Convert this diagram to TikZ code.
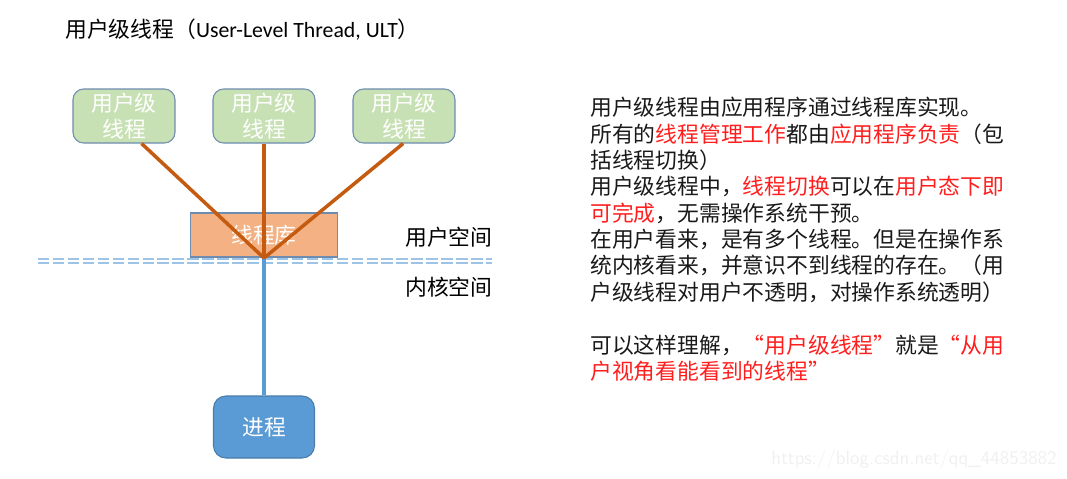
\documentclass[tikz,border=0pt]{standalone}
\usepackage{fontspec}
\setmainfont{Noto Sans CJK SC}
\newfontfamily\latinfont{Carlito}
\usepackage{xcolor}
\usepackage{tikz}
\usetikzlibrary{positioning}

\definecolor{threadgreen}{RGB}{199,224,180}
\definecolor{liborange}{RGB}{244,177,131}
\definecolor{procblue}{RGB}{91,155,213}
\definecolor{edgegray}{RGB}{110,140,175}
\definecolor{linkbrown}{RGB}{197,90,17}
\definecolor{sepblue}{RGB}{157,195,230}
\definecolor{textred}{RGB}{255,30,30}

\begin{document}
\begin{tikzpicture}[x=0.02cm,y=-0.02cm,
  every node/.style={font=\fontsize{12.4}{15}\selectfont},
  ult/.style={rectangle,rounded corners=6pt,draw=edgegray,line width=0.6pt,fill=threadgreen,
    text=white,align=center,minimum width=2.04cm,minimum height=1.08cm,inner sep=0pt},
  lib/.style={rectangle,draw=edgegray,line width=0.6pt,fill=liborange,text=white,
    minimum width=2.94cm,minimum height=0.88cm,inner sep=0pt},
  proc/.style={rectangle,rounded corners=7pt,draw=procblue!80!black,line width=0.6pt,fill=procblue,
    text=white,minimum width=2.02cm,minimum height=1.24cm,inner sep=0pt},
  link/.style={draw=linkbrown,line width=2pt},
  hl/.style={text=textred}]

  \useasboundingbox (0,0) rectangle (1067,478);

  \node[anchor=west,inner sep=0pt] (title) at (65,30) {用户级线程（{\latinfont User-Level Thread, ULT}）};

  \node[ult] (t1) at (124,116) {用户级\\线程};
  \node[ult] (t2) at (264,116) {用户级\\线程};
  \node[ult] (t3) at (404,116) {用户级\\线程};

  \node[lib] (lib) at (264,235) {线程库};
  \coordinate (join) at (264,258);

  \draw[sepblue,line width=1.2pt,double=white,double distance=0.6pt,dash pattern=on 6.5pt off 2pt]
    (38,261) -- (492,261);

  \node[proc] (proc) at (264,427) {进程};
  \draw[procblue,line width=2pt] (join) -- (proc.north);

  \draw[link] ([xshift=10pt]t1.south) -- (join);
  \draw[link] (t2.south) -- (join);
  \draw[link] ([xshift=-0.5pt]t3.south) -- (join);

  \node[anchor=west,inner sep=0pt] (user) at (405,237) {用户空间};
  \node[anchor=west,inner sep=0pt] (kernel) at (405,287) {内核空间};

  \node[anchor=north west,inner sep=0pt,align=left,text=black!90] (note) at (590,97) {%
    用户级线程由应用程序通过线程库实现。\\
    所有的{\color{textred}线程管理工作}都由{\color{textred}应用程序负责}（包\\
    括线程切换）\\
    用户级线程中，{\color{textred}线程切换}可以在{\color{textred}用户态下即}\\
    {\color{textred}可完成}，无需操作系统干预。\\
    在用户看来，是有多个线程。但是在操作系\\
    统内核看来，并意识不到线程的存在。（用\\
    户级线程对用户不透明，对操作系统透明）\\[15pt]
    可以这样理解，{\color{textred}“用户级线程”}就是{\color{textred}“从用}\\
    {\color{textred}户视角看能看到的线程”}};

  \node[anchor=east,inner sep=0pt,text=black!6,font=\fontsize{11}{13}\selectfont\sffamily] (mark) at (1057,460) {https://blog.csdn.net/qq\_44853882};

\end{tikzpicture}
\end{document}
